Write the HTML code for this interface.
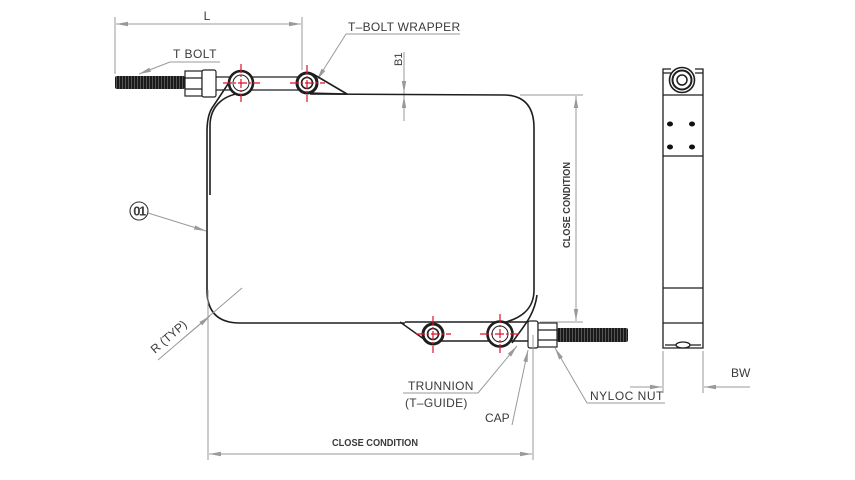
<!DOCTYPE html>
<html><head><meta charset="utf-8"><style>
html,body{margin:0;padding:0;background:#fff;}
svg{display:block;}
text{font-family:"Liberation Sans",sans-serif;fill:#3a3a3a;}
</style></head><body>
<svg width="855" height="480" viewBox="0 0 855 480" xmlns="http://www.w3.org/2000/svg">
<defs>
<marker id="ar" viewBox="0 0 12 6" refX="12" refY="3" markerWidth="12" markerHeight="6" orient="auto" markerUnits="userSpaceOnUse">
<path d="M0,0.8 L12,3 L0,5.2 Z" fill="#9a9a9a"/>
</marker>
<pattern id="thr" width="3" height="20" patternUnits="userSpaceOnUse">
<rect width="3" height="20" fill="#1a1a1a"/><rect x="2" width="1" height="20" fill="#555"/>
</pattern>
</defs>

<!-- ===== L dimension ===== -->
<g stroke="#9a9a9a" stroke-width="1" fill="none">
<line x1="115" y1="17" x2="115" y2="74"/>
<line x1="302" y1="17" x2="302" y2="70"/>
<line x1="140" y1="24" x2="116" y2="24" marker-end="url(#ar)"/>
<line x1="270" y1="24" x2="301" y2="24" marker-end="url(#ar)"/>
<line x1="140" y1="24" x2="270" y2="24"/>
</g>
<text x="207" y="20" font-size="12" text-anchor="middle">L</text>

<!-- T BOLT label -->
<text x="173" y="58" font-size="12" letter-spacing="0.5">T  BOLT</text>
<g stroke="#9a9a9a" stroke-width="1" fill="none">
<line x1="170" y1="62" x2="220" y2="62"/>
<line x1="170" y1="62" x2="139" y2="74" marker-end="url(#ar)"/>
</g>

<!-- T-BOLT WRAPPER label -->
<text x="348" y="31" font-size="12" letter-spacing="0.3">T–BOLT WRAPPER</text>
<g stroke="#9a9a9a" stroke-width="1" fill="none">
<line x1="346" y1="34" x2="460" y2="34"/>
<line x1="346" y1="34" x2="317" y2="80" marker-end="url(#ar)"/>
</g>

<!-- B1 -->
<g stroke="#9a9a9a" stroke-width="1" fill="none">
<line x1="404" y1="52" x2="404" y2="121"/>
<line x1="404" y1="78" x2="404" y2="93" marker-end="url(#ar)"/>
<line x1="404" y1="110" x2="404" y2="96" marker-end="url(#ar)"/>
</g>
<text transform="translate(402,66) rotate(-90)" font-size="11">B1</text>

<!-- ===== Top bolt assembly ===== -->
<rect x="115" y="76" width="70" height="13" rx="2" fill="url(#thr)"/>
<g stroke="#222" stroke-width="1.2" fill="#fff">
<rect x="185" y="71" width="17" height="25"/>
<line x1="185" y1="78" x2="202" y2="78"/>
<line x1="185" y1="89" x2="202" y2="89"/>
<rect x="202" y="70" width="14" height="27" rx="2"/>
<line x1="216" y1="77" x2="300" y2="77"/>
<line x1="216" y1="90" x2="300" y2="90"/>
</g>

<!-- band -->
<g stroke="#1e1e1e" stroke-width="1.6" fill="none">
<path d="M236,72 L212,108 Q207,116 207,132 L207,290 Q207,323 240,323 L405,323"/>
<path d="M244,93 C226,94 210,104 210,126 L210,195"/>
<path d="M310,94 L505,95 Q534,96 534,128 L534,290 C534,310 520,318 506,322"/>
<path d="M537,295 C534,318 520,330 512,343"/>
<path d="M313,74 L347,94"/>
<line x1="307" y1="93" x2="347" y2="94"/>
</g>

<!-- top trunnion circles -->
<g fill="#fff" stroke="#1e1e1e">
<circle cx="241" cy="83" r="12" stroke-width="2.6"/>
<circle cx="241" cy="83" r="8" stroke-width="1"/>
<circle cx="307" cy="83" r="10" stroke-width="3"/>
<circle cx="307" cy="83" r="5.5" stroke-width="1.6"/>
</g>

<!-- ===== bottom assembly ===== -->
<g stroke="#1e1e1e" stroke-width="1.4" fill="none">
<line x1="405" y1="322" x2="528" y2="322"/>
<line x1="440" y1="341" x2="528" y2="341"/>
<path d="M400,322 L428,342"/>
</g>
<g fill="#fff" stroke="#1e1e1e">
<circle cx="433" cy="334" r="10" stroke-width="3"/>
<circle cx="433" cy="334" r="5.5" stroke-width="1.6"/>
<circle cx="500" cy="334" r="12.5" stroke-width="2.6"/>
<circle cx="500" cy="334" r="8" stroke-width="1"/>
</g>
<rect x="557" y="328" width="71" height="14" rx="2" fill="url(#thr)"/>
<g stroke="#222" stroke-width="1.2" fill="#fff">
<rect x="528" y="321" width="10" height="27" rx="2"/>
<rect x="538" y="323" width="19" height="24"/>
<line x1="538" y1="330" x2="557" y2="330"/>
<line x1="538" y1="340" x2="557" y2="340"/>
</g>

<!-- red center lines -->
<g stroke="#e0102e" stroke-width="1.2" fill="none" stroke-dasharray="9,2,2,2">
<line x1="223" y1="83" x2="260" y2="83"/><line x1="241" y1="64" x2="241" y2="102"/>
<line x1="290" y1="83" x2="325" y2="83"/><line x1="307" y1="65" x2="307" y2="102"/>
<line x1="416" y1="334" x2="451" y2="334"/><line x1="433" y1="316" x2="433" y2="353"/>
<line x1="480" y1="334" x2="521" y2="334"/><line x1="500" y1="314" x2="500" y2="353"/>
</g>

<!-- ===== vertical CLOSE CONDITION ===== -->
<g stroke="#9a9a9a" stroke-width="1" fill="none">
<line x1="520" y1="95" x2="583" y2="95"/>
<line x1="540" y1="322" x2="583" y2="322"/>
<line x1="576" y1="130" x2="576" y2="96" marker-end="url(#ar)"/>
<line x1="576" y1="290" x2="576" y2="321" marker-end="url(#ar)"/>
<line x1="576" y1="130" x2="576" y2="290"/>
</g>
<text transform="translate(570,205) rotate(-90)" font-size="10" font-weight="bold" text-anchor="middle" textLength="86" lengthAdjust="spacingAndGlyphs">CLOSE CONDITION</text>

<!-- ===== bottom CLOSE CONDITION ===== -->
<g stroke="#9a9a9a" stroke-width="1" fill="none">
<line x1="208" y1="290" x2="208" y2="460"/>
<line x1="533" y1="335" x2="533" y2="460"/>
<line x1="240" y1="454" x2="209" y2="454" marker-end="url(#ar)"/>
<line x1="500" y1="454" x2="532" y2="454" marker-end="url(#ar)"/>
<line x1="240" y1="454" x2="500" y2="454"/>
</g>
<text x="375" y="446" font-size="10" font-weight="bold" text-anchor="middle" textLength="86" lengthAdjust="spacingAndGlyphs">CLOSE CONDITION</text>

<!-- 01 balloon -->
<circle cx="139" cy="211" r="9" fill="none" stroke="#333" stroke-width="1.1"/>
<text x="139" y="215.5" font-size="13" text-anchor="middle" letter-spacing="-1.5" font-weight="bold" fill="#333">01</text>
<line x1="148" y1="213" x2="206" y2="231" stroke="#9a9a9a" stroke-width="1" marker-end="url(#ar)"/>

<!-- R (TYP) -->
<line x1="158" y1="360" x2="242" y2="288" stroke="#9a9a9a" stroke-width="1"/>
<line x1="180" y1="341" x2="210" y2="316" stroke="#9a9a9a" stroke-width="1" marker-end="url(#ar)"/>
<text transform="translate(155,354) rotate(-41)" font-size="12">R (TYP)</text>

<!-- TRUNNION -->
<text x="408" y="390" font-size="12" letter-spacing="0.3">TRUNNION</text>
<text x="405" y="407" font-size="12" letter-spacing="0.3">(T–GUIDE)</text>
<g stroke="#9a9a9a" stroke-width="1" fill="none">
<line x1="403" y1="393" x2="478" y2="393"/>
<line x1="478" y1="393" x2="517" y2="346" marker-end="url(#ar)"/>
</g>

<!-- CAP -->
<text x="485" y="422" font-size="12">CAP</text>
<line x1="512" y1="425" x2="528" y2="350" stroke="#9a9a9a" stroke-width="1" marker-end="url(#ar)"/>

<!-- NYLOC NUT -->
<text x="590" y="400" font-size="12" letter-spacing="0.5">NYLOC  NUT</text>
<g stroke="#9a9a9a" stroke-width="1" fill="none">
<line x1="587" y1="403" x2="665" y2="403"/>
<line x1="587" y1="403" x2="555" y2="348" marker-end="url(#ar)"/>
</g>

<!-- ===== side view ===== -->
<g stroke="#1e1e1e" stroke-width="1.3" fill="none">
<path d="M663,73 L663,348 L703,348 L703,73"/>
<path d="M663,73 L663,69 L671,69 M695,69 L703,69 L703,73"/>
<path d="M663,73 L671,73 M695,73 L703,73"/>
<line x1="663" y1="95" x2="703" y2="95"/>
<line x1="663" y1="156" x2="703" y2="156"/>
<line x1="663" y1="288" x2="703" y2="288"/>
<line x1="663" y1="323" x2="703" y2="323"/>
<line x1="665" y1="345" x2="701" y2="345"/>
</g>
<g fill="#fff" stroke="#1e1e1e">
<circle cx="682" cy="80" r="12.5" stroke-width="1.6"/>
<circle cx="682" cy="80" r="9.5" stroke-width="2"/>
<circle cx="682" cy="80" r="5" stroke-width="1.5"/>
</g>
<ellipse cx="683" cy="345" rx="7" ry="3" fill="#fff" stroke="#1e1e1e" stroke-width="1.3"/>
<g fill="#111">
<ellipse cx="670" cy="124" rx="3" ry="2.5"/><ellipse cx="692" cy="124" rx="3" ry="2.5"/>
<ellipse cx="670" cy="147" rx="3" ry="2.5"/><ellipse cx="692" cy="147" rx="3" ry="2.5"/>
</g>

<!-- BW -->
<g stroke="#9a9a9a" stroke-width="1" fill="none">
<line x1="663" y1="351" x2="663" y2="393"/>
<line x1="703" y1="351" x2="703" y2="393"/>
<line x1="630" y1="387" x2="662" y2="387" marker-end="url(#ar)"/>
<line x1="750" y1="387" x2="704" y2="387" marker-end="url(#ar)"/>
</g>
<text x="731" y="377" font-size="12">BW</text>
</svg>
</body></html>
